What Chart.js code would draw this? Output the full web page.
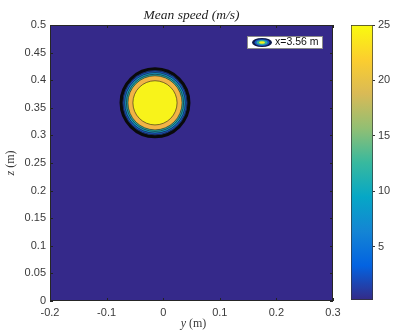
<!DOCTYPE html>
<html>
<head>
<meta charset="utf-8">
<script src="https://cdn.jsdelivr.net/npm/chart.js@4"></script>
<style>
  body { margin: 0; background: #fff; }
  #wrap { position: relative; width: 409px; height: 333px; }
  #wrap canvas { position: absolute; left: 0; top: 0; }
</style>
</head>
<body>
<div id="wrap">
  <canvas id="chart" width="409" height="333"></canvas>
  <canvas id="barra" width="409" height="333"></canvas>
</div>
<script>
// datos
var titulo = 'Mean speed (m/s)';
var etiquetaX = ['y', ' (m)'];
var etiquetaZ = ['z', ' (m)'];
var leyenda = 'x=3.56 m';
var centroY = -0.0145;
var centroZ = 0.359;
var nivelesContorno = [1, 5, 10, 15, 20, 23.5];          // m/s
var radiosContorno = [0.060, 0.0565, 0.0535, 0.0505, 0.0478, 0.039]; // m
var coloresContorno = ['#1b3f9e', '#1a56c4', '#1598c6', '#2fae9f', '#f1b446', '#f8f31a'];
var ticksX = [-0.2, -0.1, 0, 0.1, 0.2, 0.3];
var minBarra = 0.2;
var maxBarra = 25;
var ticksBarra = [5, 10, 15, 20, 25];
var paradasParula = ['#352a87', '#0363e1', '#1485d4', '#06a7c6', '#38b99e', '#92bf73', '#d9ba56', '#fcce2e', '#f9fb0e'];

var fondo = '#35298a';
var colorTexto = '#3a3a3a';

// conjuntos de datos: un circulo por nivel, el radio pasa por la escala x
var conjuntos = [];
for (var i = 0; i < nivelesContorno.length; i++) {
    (function (k) {
        conjuntos.push({
            label: 'nivel ' + nivelesContorno[k],
            data: [{ x: centroY, y: centroZ }],
            backgroundColor: coloresContorno[k],
            borderColor: k === 0 ? '#0a0a0a' : 'rgba(20,20,20,0.7)',
            borderWidth: k === 0 ? 3 : 0.8,
            order: nivelesContorno.length - k,
            pointRadius: function (ctx) {
                var s = ctx.chart.scales.x;
                return Math.abs(s.getPixelForValue(centroY + radiosContorno[k]) - s.getPixelForValue(centroY));
            }
        });
    })(i);
}

function textoMixto(c, partes, x, y) {
    // primera parte en cursiva, resto normal, centrado en x
    c.font = 'italic 12px "Liberation Serif"';
    var w1 = c.measureText(partes[0]).width;
    c.font = '12px "Liberation Serif"';
    var w2 = c.measureText(partes[1]).width;
    var x0 = x - (w1 + w2) / 2;
    c.textAlign = 'left';
    c.font = 'italic 12px "Liberation Serif"';
    c.fillText(partes[0], x0, y);
    c.font = '12px "Liberation Serif"';
    c.fillText(partes[1], x0 + w1, y);
}

var decoracion = {
    id: 'decoracion',
    beforeDraw: function (chart) {
        var c = chart.ctx, a = chart.chartArea;
        c.save();
        c.fillStyle = fondo;
        c.fillRect(a.left, a.top, a.right - a.left, a.bottom - a.top);
        c.restore();
    },
    afterDraw: function (chart) {
        var c = chart.ctx, a = chart.chartArea;
        var sx = chart.scales.x, sy = chart.scales.y;
        c.save();
        // marcas hacia dentro
        c.strokeStyle = '#222';
        c.lineWidth = 1;
        c.beginPath();
        sx.ticks.forEach(function (t) {
            var px = Math.round(sx.getPixelForValue(t.value)) + 0.5;
            c.moveTo(px, a.bottom); c.lineTo(px, a.bottom - 3);
            c.moveTo(px, a.top); c.lineTo(px, a.top + 3);
        });
        sy.ticks.forEach(function (t) {
            var py = Math.round(sy.getPixelForValue(t.value)) + 0.5;
            c.moveTo(a.left, py); c.lineTo(a.left + 3, py);
            c.moveTo(a.right, py); c.lineTo(a.right - 3, py);
        });
        c.stroke();
        // marco
        c.strokeStyle = '#262626';
        c.strokeRect(a.left + 0.5, a.top + 0.5, a.right - a.left - 1, a.bottom - a.top - 1);
        // titulo
        c.fillStyle = '#222';
        c.font = 'italic 13.5px "Liberation Serif"';
        c.textAlign = 'center';
        c.textBaseline = 'middle';
        c.fillText(titulo, (a.left + a.right) / 2, 15);
        // etiquetas de ejes
        c.fillStyle = colorTexto;
        textoMixto(c, etiquetaX, (a.left + a.right) / 2 + 2, 324);
        c.save();
        c.translate(11, (a.top + a.bottom) / 2);
        c.rotate(-Math.PI / 2);
        textoMixto(c, etiquetaZ, 0, 0);
        c.restore();
        // leyenda
        var bx = 247, by = 36, bw = 75, bh = 12;
        c.fillStyle = '#fff';
        c.fillRect(bx, by, bw, bh);
        c.strokeStyle = '#8a8a8a';
        c.strokeRect(bx + 0.5, by + 0.5, bw, bh);
        var ex = bx + 15, ey = by + bh / 2 + 0.5;
        var escalas = [1, 0.75, 0.55, 0.3];
        var col = ['#0d1a4a', '#1a56c4', '#2fae9f', '#f8f31a'];
        for (var j = 0; j < escalas.length; j++) {
            c.beginPath();
            c.ellipse(ex, ey, 10 * escalas[j], 4.5 * escalas[j], 0, 0, Math.PI * 2);
            c.fillStyle = col[j];
            c.fill();
        }
        c.fillStyle = '#111';
        c.font = '10.5px "Liberation Sans"';
        c.textAlign = 'left';
        c.fillText(leyenda, bx + 28, ey);
        c.restore();
    }
};

new Chart(document.getElementById('chart').getContext('2d'), {
    type: 'scatter',
    data: { datasets: conjuntos },
    options: {
        responsive: false,
        animation: false,
        events: [],
        layout: { padding: { top: 25, right: 76, left: 0, bottom: 0 } },
        plugins: { legend: { display: false }, tooltip: { enabled: false } },
        scales: {
            x: {
                type: 'linear', min: -0.2, max: 0.3,
                afterBuildTicks: function (s) { s.ticks = ticksX.map(function (v) { return { value: v }; }); },
                afterFit: function (s) { s.height = 32; },
                grid: { display: false, drawTicks: false },
                border: { display: false },
                ticks: { color: colorTexto, font: { family: 'Liberation Sans', size: 11 }, padding: 5, maxRotation: 0 }
            },
            y: {
                type: 'linear', min: 0, max: 0.5,
                ticks: { stepSize: 0.05, color: colorTexto, font: { family: 'Liberation Sans', size: 11 }, padding: 4,
                    callback: function (v) { return String(+v.toFixed(2)); } },
                afterFit: function (s) { s.width = 50; },
                grid: { display: false, drawTicks: false },
                border: { display: false }
            }
        }
    },
    plugins: [decoracion]
});

// barra de colores
function degradado(ctx) {
    var chart = ctx.chart;
    if (!chart.chartArea) return paradasParula[0];
    var s = chart.scales.y;
    var g = chart.ctx.createLinearGradient(0, s.getPixelForValue(minBarra), 0, s.getPixelForValue(maxBarra));
    for (var i = 0; i < paradasParula.length; i++) {
        g.addColorStop(i / (paradasParula.length - 1), paradasParula[i]);
    }
    return g;
}

new Chart(document.getElementById('barra').getContext('2d'), {
    type: 'bar',
    data: {
        labels: [''],
        datasets: [{
            data: [[minBarra, maxBarra]],
            backgroundColor: degradado,
            borderColor: '#333',
            borderWidth: 1,
            borderSkipped: false,
            barPercentage: 1,
            categoryPercentage: 1
        }]
    },
    options: {
        responsive: false,
        animation: false,
        events: [],
        layout: { padding: { top: 25, left: 351, bottom: 0, right: 0 } },
        plugins: { legend: { display: false }, tooltip: { enabled: false } },
        scales: {
            x: { display: true, afterFit: function (s) { s.height = 33; }, ticks: { display: false }, grid: { display: false }, border: { display: false } },
            y: {
                position: 'right', min: minBarra, max: maxBarra,
                afterBuildTicks: function (s) { s.ticks = ticksBarra.map(function (v) { return { value: v }; }); },
                afterFit: function (s) { s.width = 36; },
                grid: { display: true, drawOnChartArea: false, tickLength: 2, color: '#333' },
                border: { display: false },
                ticks: { color: colorTexto, font: { family: 'Liberation Sans', size: 11 }, padding: 3 }
            }
        }
    }
});
</script>
</body>
</html>
